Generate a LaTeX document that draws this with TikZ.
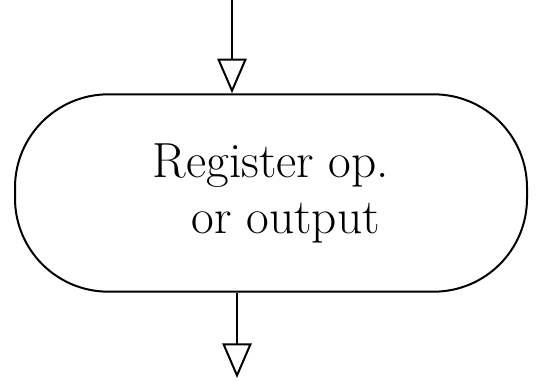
\documentclass[tikz,border=0pt]{standalone}
\usetikzlibrary{arrows.meta}

\begin{document}
\begin{tikzpicture}[x=.75pt,y=-.75pt,
      terminal/.style={draw, line width=1.5pt, rounded corners=70pt,
        minimum width=384pt, minimum height=148pt, align=center,
        font=\fontsize{37}{42}\selectfont},
      flow/.style={draw, line width=1.5pt,
        -{Triangle[open, length=26pt, width=22pt, line width=1.5pt]}}]
      \useasboundingbox (0,0) rectangle (541,381);

      \node[terminal] (reg) at (271,193)
        {Register op.\\ \hspace{.6em}or output};

      \coordinate (in) at (232,0);
      \coordinate (out) at (237,378);
      \path[flow] (in) -- (in |- reg.north);
      \path[flow] (out |- reg.south) -- (out);
    \end{tikzpicture}
\end{document}
